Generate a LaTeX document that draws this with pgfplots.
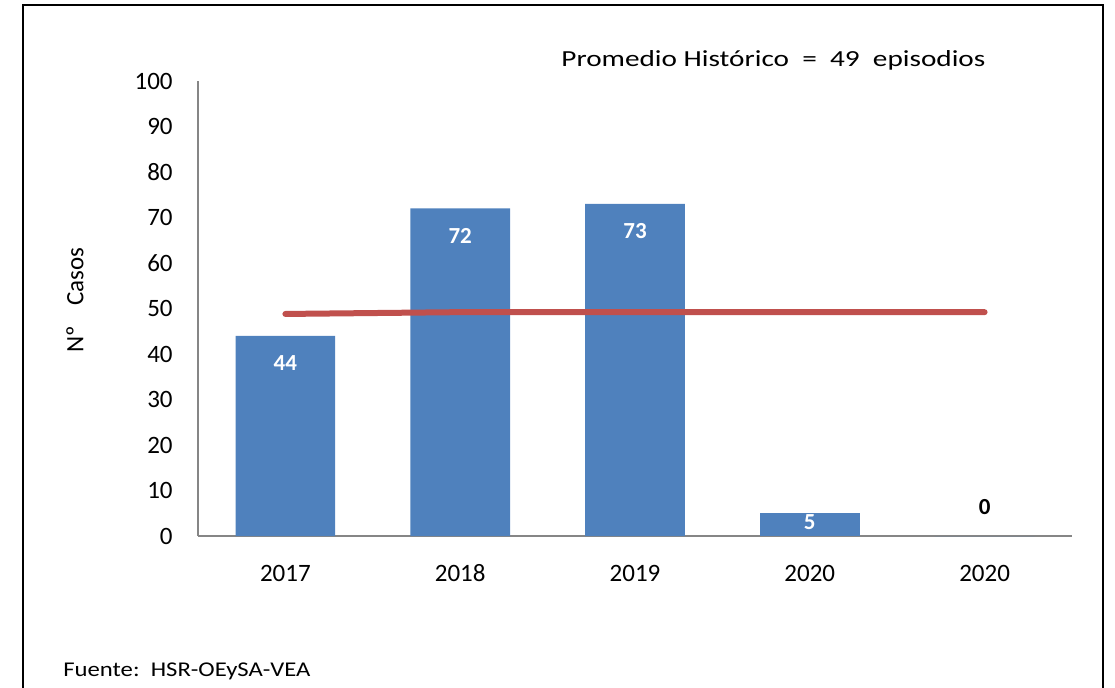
\documentclass[border=0pt]{standalone}
\usepackage{fontspec}
\setmainfont{Carlito}
\usepackage{graphicx}
\usepackage{pgfplots}
\pgfplotsset{compat=1.18}
\definecolor{barblue}{RGB}{79,129,189}
\definecolor{linered}{RGB}{192,80,77}
\definecolor{axgray}{RGB}{134,134,134}
\begin{document}
\begin{tikzpicture}
\begin{scope}[x=0.5pt,y=0.5pt]
\useasboundingbox (0,0) rectangle (1115,687);
\begin{scope}
\clip (0,0) rectangle (1115,687);
\draw[line width=1pt] (23,-20) rectangle (1103,682);
\end{scope}
\node[anchor=west, inner sep=0pt, font=\fontsize{11.5}{14}\selectfont] at (561,627) {\resizebox{212pt}{\height}{Promedio Histórico\ \ =\ \ 49\ \ episodios}};
\node[anchor=west, inner sep=0pt, font=\fontsize{10.5}{13}\selectfont] at (63,16) {\resizebox{123.5pt}{\height}{Fuente:\ \ HSR-OEySA-VEA}};
\end{scope}
\begin{axis}[
  at={(99pt,75.5pt)}, anchor=south west,
  scale only axis, width=437pt, height=227.5pt,
  xmin=-0.5, xmax=4.5, ymin=0, ymax=100,
  axis x line*=bottom, axis y line*=left,
  axis line style={draw=axgray, line width=1pt, -},
  xtick={0,1,2,3,4}, xticklabels={2017,2018,2019,2020,2020},
  ytick={0,10,...,100},
  major tick length=0pt, tick style={draw=none},
  tick label style={font=\fontsize{12.5}{15}\selectfont},
  xticklabel style={anchor=center, inner sep=0pt, yshift=-18.5pt},
  yticklabel style={anchor=east, inner sep=0pt, xshift=-12.5pt},
  /pgf/number format/assume math mode=true,
  ylabel={Nº\hspace{10pt}Casos},
  ylabel style={at={(axis description cs:-0.1407,0.519)}, anchor=center, font=\fontsize{12.5}{15}\selectfont},
  clip=false,
]
\addplot[ybar, bar width=0.57, bar shift=0pt, fill=barblue, draw=none,
  nodes near coords,
  every node near coord/.append style={font=\bfseries\fontsize{11.5}{13}\selectfont, text=white, anchor=center, yshift=-13.75pt}]
  coordinates {(0,44) (1,72) (2,73)};
\addplot[ybar, bar width=0.57, bar shift=0pt, fill=barblue, draw=none,
  nodes near coords,
  every node near coord/.append style={font=\bfseries\fontsize{11.5}{13}\selectfont, text=white, anchor=center, yshift=-4.5pt}]
  coordinates {(3,5)};
\addplot[ybar, bar width=0.57, bar shift=0pt, fill=barblue, draw=none,
  nodes near coords,
  every node near coord/.append style={font=\bfseries\fontsize{11.5}{13}\selectfont, text=black, anchor=center, yshift=14.5pt}]
  coordinates {(4,0)};
\addplot[linered, line width=3pt, line cap=round, mark=none]
  coordinates {(0,48.8) (1,49.2) (2,49.2) (3,49.2) (4,49.2)};
\end{axis}
\end{tikzpicture}
\end{document}
